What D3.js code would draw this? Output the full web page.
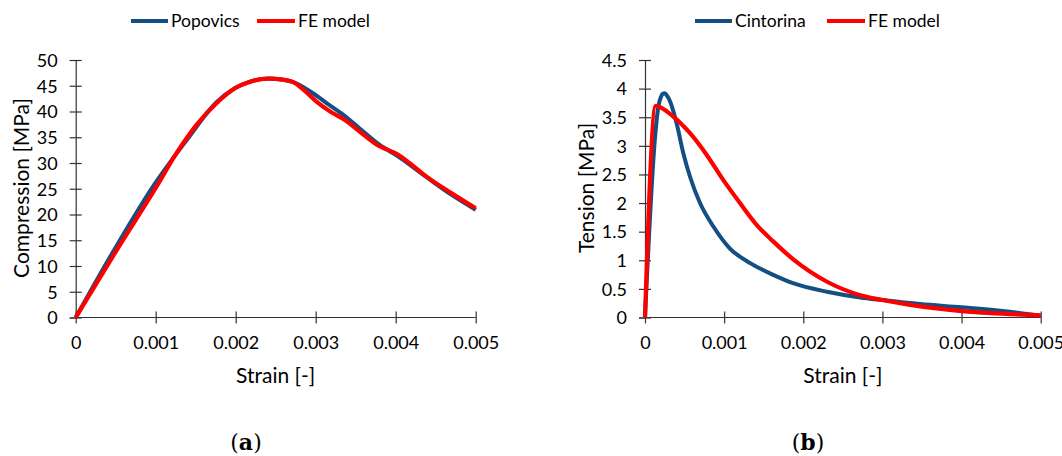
<!DOCTYPE html>
<meta charset="utf-8">
<style>
body { margin: 0; background: #fff; }
svg text { font-family: Lato, "Open Sans", sans-serif; fill: #000; }
.tick text { font-size: 18px; }
.axis path, .axis line { stroke: #333; stroke-width: 1.2px; }
.ctitle { font-size: 21px; }
.leg { font-size: 17.5px; }
.panel { font-family: "DejaVu Serif", serif; font-size: 22px; }
</style>
<body>
<svg id="graph"></svg>
<script src="https://d3js.org/d3.v7.min.js"></script>
<script>

// strain [-], stress [MPa]
var popovics = [[0,0],[0.00048,13.1],[0.00099,26.0],[0.00139,34.5],[0.00176,41.8],[0.002,44.6],
  [0.00218,45.8],[0.00241,46.4],[0.00258,46.2],[0.00272,45.7],[0.00297,43.5],[0.00314,41.6],
  [0.00335,39.3],[0.00355,36.7],[0.0038,33.5],[0.00401,31.5],[0.00439,27.2],[0.0047,23.8],[0.005,20.9]];
var feComp = [[0,0],[0.000513,13.1],[0.00101,25.4],[0.00126,31.9],[0.00151,37.4],[0.00176,41.6],
  [0.002,44.6],[0.00218,45.8],[0.00241,46.4],[0.00258,46.2],[0.00272,45.7],[0.00285,44.2],
  [0.00301,41.9],[0.00318,40.0],[0.00337,38.3],[0.00355,36.1],[0.00376,33.6],[0.00403,31.6],
  [0.00418,29.9],[0.00439,27.3],[0.0047,24.1],[0.005,21.2]];
var cintorina = [[0,0],[0.00013,3.2],[0.000168,3.68],[0.0002,3.85],[0.000225,3.91],[0.000248,3.92],
  [0.000272,3.89],[0.000316,3.78],[0.0004,3.39],[0.000484,2.87],[0.000569,2.46],[0.000695,2.0],
  [0.000864,1.59],[0.00107,1.21],[0.00133,0.95],[0.00162,0.745],[0.00187,0.60],[0.0023,0.45],
  [0.00272,0.35],[0.003,0.305],[0.00348,0.235],[0.004,0.178],[0.00461,0.10],[0.005,0.03]];
var feTens = [[0,0],[0.000135,3.70],[0.000358,3.51],[0.000569,3.22],[0.00078,2.84],[0.00099,2.40],
  [0.0012,2.0],[0.00141,1.62],[0.00162,1.33],[0.00187,1.02],[0.0023,0.625],[0.00272,0.39],
  [0.003,0.305],[0.00335,0.22],[0.004,0.113],[0.00461,0.06],[0.005,0.038]];

var strainTicks = [0, 0.001, 0.002, 0.003, 0.004, 0.005];
var compTicks = d3.range(0, 51, 5);
var tensTicks = [0, 0.5, 1, 1.5, 2, 2.5, 3, 3.5, 4, 4.5];

var blue = "#134f82", red = "#ff0000";

var svg = d3.select("#graph").attr("width", 1062).attr("height", 456);

function panel(opt) {
  var x = d3.scaleLinear().domain([0, 0.005]).range([opt.x0, opt.x1]);
  var y = d3.scaleLinear().domain([0, opt.ymax]).range([317.5, 60]);
  var g = svg.append("g");

  // X axis
  var xa = g.append("g").attr("class", "axis")
      .attr("transform", "translate(0,317.5)")
      .call(d3.axisBottom(x).tickValues(strainTicks).tickSizeOuter(0).tickSize(6)
        .tickFormat(function(d) { return d === 0 ? "0" : d3.format(".3f")(d); }));
  xa.selectAll(".tick line").attr("y1", -6).attr("y2", 6);
  xa.selectAll(".tick text").attr("y", 25).attr("dy", "0.35em");
  xa.select(".domain").attr("d", "M" + opt.x0 + ",0H" + opt.x1);

  // Y axis
  var ya = g.append("g").attr("class", "axis")
      .attr("transform", "translate(" + opt.x0 + ",0)")
      .call(d3.axisLeft(y).tickValues(opt.ticks).tickSizeOuter(0).tickSize(6)
        .tickFormat(function(d) { return String(d); }));
  ya.selectAll(".tick line").attr("x1", -6).attr("x2", 6);
  ya.selectAll(".tick text").attr("x", -18).attr("dy", "0.35em");

  var line = d3.line()
      .x(function(d) { return x(d[0]); })
      .y(function(d) { return y(d[1]); })
      .curve(d3.curveMonotoneX);

  g.append("path").datum(opt.a).attr("fill", "none").attr("stroke", blue)
      .attr("stroke-width", 4).attr("stroke-linejoin", "round").attr("d", line);
  g.append("path").datum(opt.b).attr("fill", "none").attr("stroke", red)
      .attr("stroke-width", 4.2).attr("stroke-linejoin", "round").attr("d", line);

  // axis titles
  g.append("text").attr("class", "ctitle")
      .attr("transform", "translate(" + opt.ytx + ",188) rotate(-90)")
      .attr("text-anchor", "middle").attr("dy", "0.35em").text(opt.ylabel);
  g.append("text").attr("class", "ctitle")
      .attr("x", (opt.x0 + opt.x1) / 2).attr("y", 376).attr("dy", "0.35em")
      .attr("text-anchor", "middle").text("Strain [-]");

  // legend
  var lg = g.append("g");
  lg.append("line").attr("x1", opt.lx).attr("x2", opt.lx + 37).attr("y1", 21).attr("y2", 21)
      .attr("stroke", blue).attr("stroke-width", 4);
  lg.append("text").attr("class", "leg").attr("x", opt.lx + 40).attr("y", 21).attr("dy", "0.35em").text(opt.aname);
  lg.append("line").attr("x1", opt.lx2).attr("x2", opt.lx2 + 38).attr("y1", 21).attr("y2", 21)
      .attr("stroke", red).attr("stroke-width", 4);
  lg.append("text").attr("class", "leg").attr("x", opt.lx2 + 41).attr("y", 21).attr("dy", "0.35em").text("FE model");

  // panel letter
  var pt = g.append("text").attr("class", "panel").attr("x", opt.px).attr("y", 450).attr("text-anchor", "middle");
  pt.append("tspan").text("(");
  pt.append("tspan").attr("font-weight", "bold").text(opt.letter);
  pt.append("tspan").text(")");
}

panel({x0: 75.7, x1: 475.7, ymax: 50, ticks: compTicks, a: popovics, b: feComp,
  ylabel: "Compression [MPa]", ytx: 22, aname: "Popovics", lx: 131, lx2: 257, px: 246, letter: "a"});
panel({x0: 645, x1: 1040.7, ymax: 4.5, ticks: tensTicks, a: cintorina, b: feTens,
  ylabel: "Tension [MPa]", ytx: 587, aname: "Cintorina", lx: 695, lx2: 827, px: 808, letter: "b"});

</script>
</body>
